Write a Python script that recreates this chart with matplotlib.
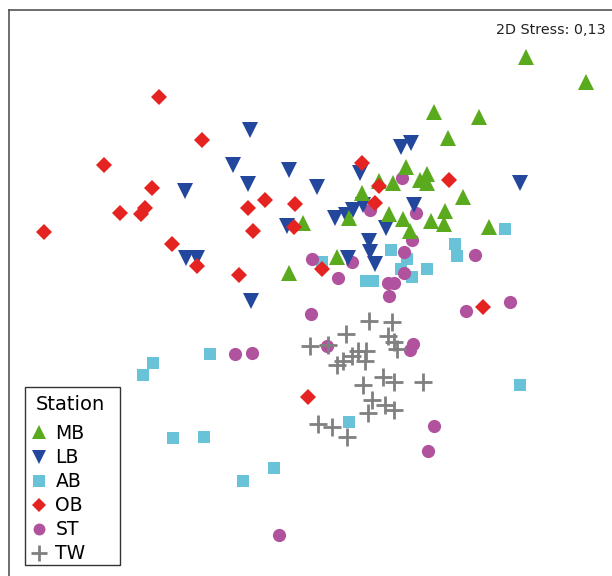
import matplotlib
matplotlib.use("Agg")
import matplotlib.pyplot as plt
from matplotlib.lines import Line2D
from matplotlib.patches import Rectangle

# NMDS coordinates (arbitrary units; y grows downward)
mb_x = [526, 586, 434, 479, 448, 406, 379, 393, 420, 427, 427, 362, 463, 389, 403, 445, 431, 444, 489, 410, 337, 349, 303, 289]
mb_y = [57, 82, 112, 117, 138, 167, 181, 183, 180, 174, 183, 193, 197, 214, 219, 211, 221, 224, 227, 231, 257, 218, 223, 273]

lb_x = [250, 233, 289, 248, 185, 287, 186, 197, 251, 401, 411, 360, 317, 520, 353, 346, 335, 414, 363, 386, 369, 370, 375, 348]
lb_y = [130, 165, 170, 184, 191, 226, 258, 258, 301, 147, 143, 173, 187, 183, 210, 215, 218, 205, 205, 228, 241, 252, 264, 258]

ab_x = [505, 455, 457, 391, 407, 401, 427, 412, 373, 366, 322, 153, 143, 210, 173, 204, 274, 243, 520, 349]
ab_y = [229, 244, 256, 250, 259, 269, 269, 277, 281, 281, 262, 363, 375, 354, 438, 437, 468, 481, 385, 422]

ob_x = [44, 104, 120, 141, 145, 152, 159, 172, 197, 202, 239, 248, 265, 253, 295, 294, 362, 379, 375, 449, 322, 483, 308]
ob_y = [232, 165, 213, 214, 208, 188, 97, 244, 266, 140, 275, 208, 200, 231, 204, 227, 163, 186, 203, 180, 269, 307, 397]

st_x = [402, 370, 416, 412, 404, 475, 352, 312, 338, 404, 388, 394, 389, 311, 466, 510, 327, 413, 410, 434, 428, 235, 252, 279]
st_y = [178, 210, 213, 240, 252, 255, 262, 259, 278, 273, 283, 283, 296, 314, 311, 302, 346, 344, 350, 426, 451, 354, 353, 535]

tw_x = [369, 392, 346, 388, 310, 328, 394, 397, 358, 366, 352, 343, 337, 365, 423, 363, 383, 394, 372, 385, 394, 368, 318, 332, 347]
tw_y = [321, 322, 334, 336, 346, 345, 342, 349, 351, 351, 356, 361, 365, 361, 382, 385, 377, 382, 400, 405, 410, 413, 424, 427, 437]

stations = ["MB", "LB", "AB", "OB", "ST", "TW"]
legend_title = "Station"
stress_label = "2D Stress: 0,13"

W, H = 612, 576
fig = plt.figure(figsize=(W / 100, H / 100), dpi=100)
x0, x1, y0, y1 = 9, 622, 10, 592
ax = fig.add_axes([x0 / W, 1 - y1 / H, (x1 - x0) / W, (y1 - y0) / H])
ax.set_xlim(x0, x1)
ax.set_ylim(y1, y0)
ax.set_xticks([])
ax.set_yticks([])
for s in ax.spines.values():
    s.set_color("#555555")
    s.set_linewidth(1.2)

styles = {
    "MB": dict(marker="^", color="#5AAA1E", ms=11),
    "LB": dict(marker="v", color="#23479C", ms=11),
    "AB": dict(marker="s", color="#68C3D8", ms=9),
    "OB": dict(marker="D", color="#E52421", ms=8),
    "ST": dict(marker="o", color="#B0529E", ms=9.5),
    "TW": dict(marker="+", color="#808080", ms=13, mew=2),
}
data = {
    "MB": (mb_x, mb_y), "LB": (lb_x, lb_y), "AB": (ab_x, ab_y),
    "OB": (ob_x, ob_y), "ST": (st_x, st_y), "TW": (tw_x, tw_y),
}
order = ["AB", "ST", "LB", "MB", "OB", "TW"]
for name in order:
    st = styles[name]
    x, y = data[name]
    ax.plot(x, y, linestyle="none", marker=st["marker"], color=st["color"],
            markersize=st["ms"], markeredgewidth=st.get("mew", 0), zorder=3)

# legend box (drawn in figure pixels)
box = Rectangle((25 / W, 1 - 565 / H), 95 / W, 178 / H, transform=fig.transFigure,
                facecolor="white", edgecolor="#333333", linewidth=1.0, zorder=5)
fig.patches.append(box)
fig.text(36 / W, 1 - 405 / H, legend_title, ha="left", va="center", fontsize=14, zorder=6)

handles = []
for name in stations:
    st = styles[name]
    handles.append(Line2D([], [], linestyle="none", marker=st["marker"], color=st["color"],
                          markersize=st["ms"] * 0.9, markeredgewidth=st.get("mew", 0)))
leg = fig.legend(handles, stations, loc="upper left",
                 bbox_to_anchor=(31 / W, 1 - 424 / H),
                 borderaxespad=0, fontsize=13.5, frameon=False,
                 handlelength=0.9, handletextpad=0.4,
                 labelspacing=0.27, borderpad=0.0)
leg.set_zorder(7)

ax.text(606, 30, stress_label, ha="right", va="center", fontsize=10.3, color="#222222")

fig.savefig("out.png", dpi=100)
